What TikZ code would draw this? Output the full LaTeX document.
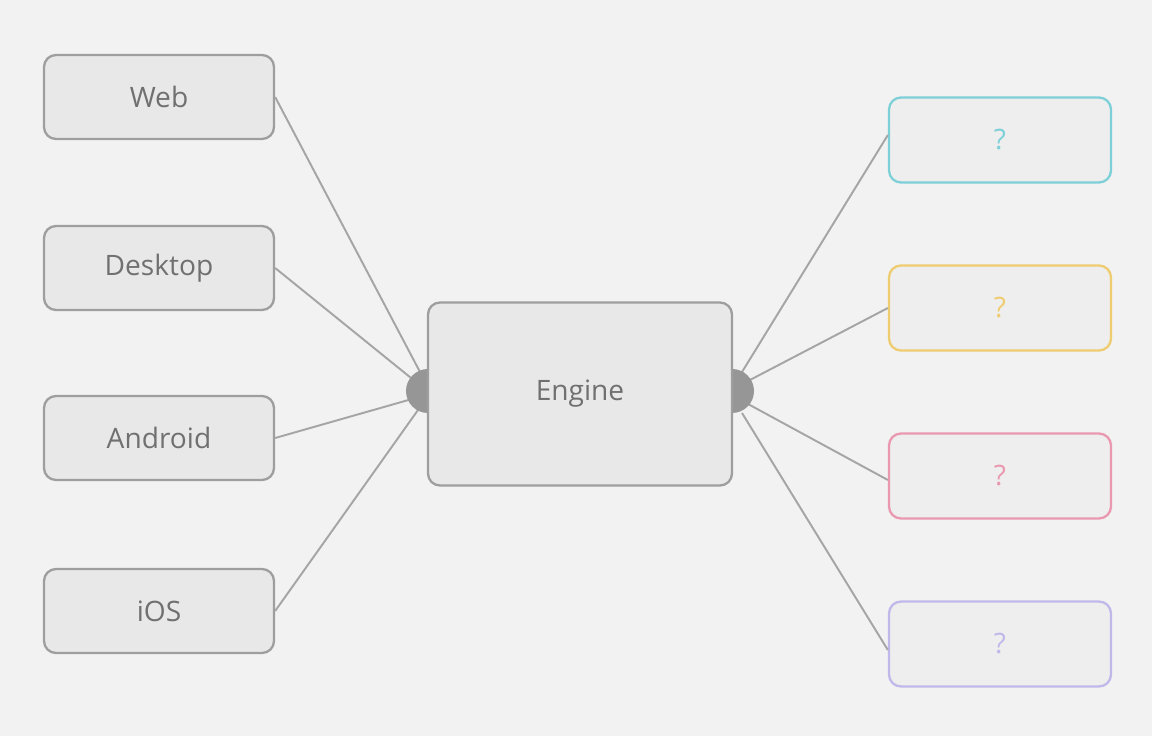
\documentclass[tikz,border=0pt]{standalone}
\usepackage{fontspec}
\setmainfont{Open Sans}
\usepackage{tikz}
\usetikzlibrary{positioning,calc}
\definecolor{bgcol}{RGB}{242,242,242}
\definecolor{boxfill}{RGB}{232,232,232}
\definecolor{boxline}{RGB}{158,158,158}
\definecolor{txtcol}{RGB}{112,112,112}
\definecolor{wirecol}{RGB}{165,165,165}
\definecolor{hubcol}{RGB}{150,150,150}
\definecolor{outA}{RGB}{125,208,216}
\definecolor{outB}{RGB}{240,204,112}
\definecolor{outC}{RGB}{234,152,176}
\definecolor{outD}{RGB}{192,184,234}
\tikzset{
  srcbox/.style={rectangle, rounded corners=0.24cm, draw=boxline, fill=boxfill,
                 line width=1.3pt, minimum width=4.6cm, minimum height=1.68cm,
                 text=txtcol, font=\fontsize{16}{19}\selectfont},
  enginebox/.style={srcbox, minimum width=6.08cm, minimum height=3.66cm},
  outbox/.style={rectangle, rounded corners=0.24cm, draw=#1, fill=bgcol!60!boxfill,
                 line width=1.3pt, minimum width=4.44cm, minimum height=1.7cm,
                 text=#1, font=\fontsize{16}{19}\selectfont},
  wire/.style={wirecol, line width=1.1pt},
}

\begin{document}
\begin{tikzpicture}
  \fill[bgcol] (0,0) rectangle (23.04,14.72);
  \useasboundingbox (0,0) rectangle (23.04,14.72);

  % Clients on the left
  \foreach \n/\y/\t in {web/12.78/Web, desk/9.36/Desktop, andr/5.96/Android, ios/2.5/iOS}
    \node[srcbox] (\n) at (3.18,\y) {\t};

  % Outputs on the right
  \foreach \n/\y/\c in {qa/11.92/outA, qb/8.56/outB, qc/5.2/outC, qd/1.84/outD}
    \node[outbox=\c] (\n) at (20.0,\y) {?};

  % Hub ends of the wires
  \foreach \n/\x/\y in {lw/8.4/7.28, ld/8.32/7.08, la/8.24/6.74, li/8.36/6.52,
                        ra/14.84/7.28, rb/14.96/7.1, rc/14.96/6.64, rd/14.84/6.46}
    \coordinate (\n) at (\x,\y);

  \draw[wire] (web.east) -- (lw);
  \draw[wire] (desk.east) -- (ld);
  \draw[wire] (andr.east) -- (la);
  \draw[wire] (ios.east) -- (li);
  \draw[wire] (ra) -- ([yshift=0.1cm]qa.west);
  \draw[wire] (rb) -- (qb.west);
  \draw[wire] (rc) -- ([yshift=-0.08cm]qc.west);
  \draw[wire] (rd) -- ([yshift=-0.12cm]qd.west);

  % Engine with its two ports
  \coordinate (lport) at (8.56,6.9);
  \coordinate (rport) at (14.64,6.9);
  \fill[hubcol] (lport) circle (0.44cm);
  \fill[hubcol] (rport) circle (0.44cm);
  \node[enginebox] (engine) at (11.6,6.84) {Engine};
\end{tikzpicture}
\end{document}
